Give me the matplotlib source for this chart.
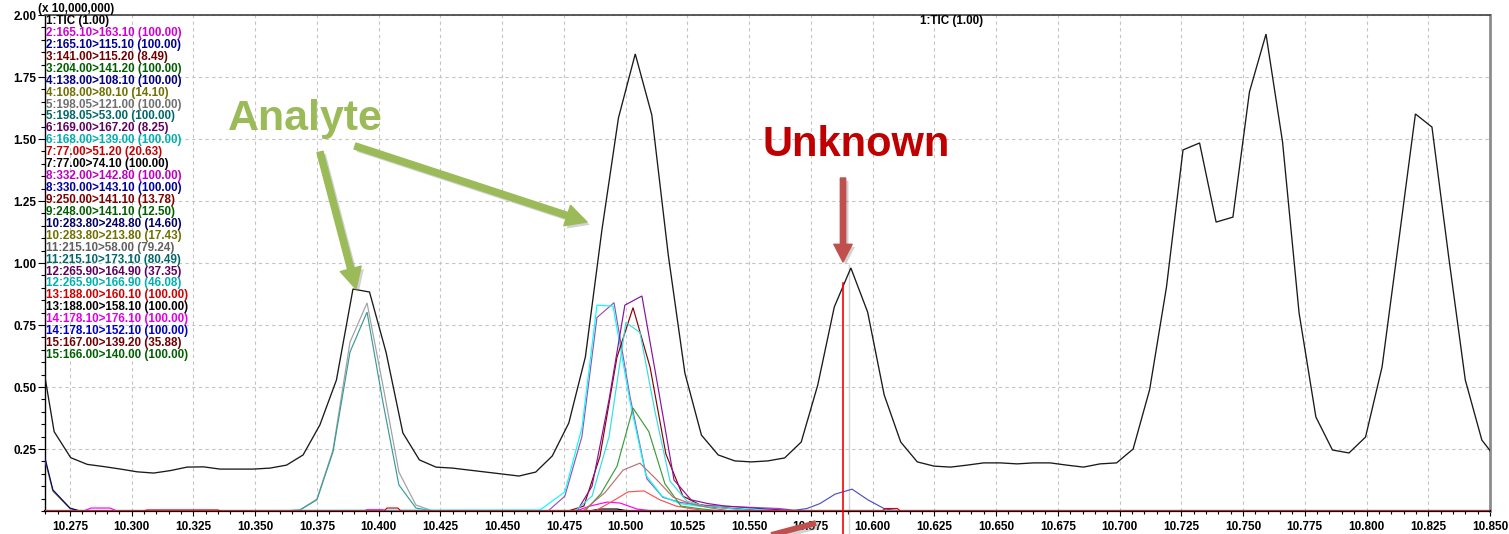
import matplotlib
matplotlib.use("Agg")
import matplotlib.pyplot as plt
from matplotlib.patches import FancyArrowPatch, ArrowStyle
from matplotlib.lines import Line2D
from matplotlib.ticker import MultipleLocator, FixedLocator
import matplotlib.patheffects as pe

plt.rcParams['font.family'] = ['Liberation Sans', 'DejaVu Sans']

W, H = 1509, 534

# ---------------- data ----------------
x_min, x_max = 10.2649, 10.850
y_min, y_max = 0.0, 2.0
x_ticks = [10.275, 10.300, 10.325, 10.350, 10.375, 10.400, 10.425, 10.450, 10.475,
           10.500, 10.525, 10.550, 10.575, 10.600, 10.625, 10.650, 10.675, 10.700,
           10.725, 10.750, 10.775, 10.800, 10.825, 10.850]
y_ticks = [0.25, 0.50, 0.75, 1.00, 1.25, 1.50, 1.75, 2.00]

# total ion chromatogram (x 10,000,000)
tic_time = [10.2649, 10.2686, 10.2753, 10.2820, 10.2888, 10.2955, 10.3022, 10.3089,
            10.3157, 10.3224, 10.3291, 10.3358, 10.3425, 10.3493, 10.3560, 10.3627,
            10.3694, 10.3762, 10.3829, 10.3896, 10.3963, 10.4030, 10.4098, 10.4165,
            10.4232, 10.4299, 10.4366, 10.4434, 10.4501, 10.4568, 10.4636, 10.4703,
            10.4770, 10.4837, 10.4904, 10.4971, 10.5039, 10.5106, 10.5173, 10.5240,
            10.5307, 10.5375, 10.5442, 10.5509, 10.5576, 10.5644, 10.5711, 10.5778,
            10.5845, 10.5912, 10.5980, 10.6047, 10.6114, 10.6181, 10.6249, 10.6316,
            10.6383, 10.6450, 10.6517, 10.6585, 10.6652, 10.6719, 10.6786, 10.6854,
            10.6921, 10.6988, 10.7055, 10.7122, 10.7190, 10.7257, 10.7324, 10.7391,
            10.7459, 10.7526, 10.7593, 10.7660, 10.7727, 10.7795, 10.7862, 10.7929,
            10.7996, 10.8063, 10.8131, 10.8198, 10.8265, 10.8332, 10.8400, 10.8467,
            10.8534]
tic_int = [0.540, 0.320, 0.215, 0.188, 0.179, 0.169, 0.158, 0.153,
           0.163, 0.177, 0.178, 0.169, 0.169, 0.169, 0.173, 0.185,
           0.226, 0.347, 0.528, 0.895, 0.883, 0.640, 0.315, 0.206,
           0.177, 0.173, 0.165, 0.157, 0.149, 0.141, 0.157, 0.222,
           0.355, 0.621, 1.133, 1.585, 1.843, 1.597, 1.030, 0.556,
           0.306, 0.226, 0.202, 0.198, 0.202, 0.214, 0.278, 0.508,
           0.823, 0.980, 0.802, 0.468, 0.278, 0.198, 0.181, 0.177,
           0.185, 0.194, 0.194, 0.190, 0.194, 0.194, 0.185, 0.177,
           0.190, 0.194, 0.250, 0.490, 0.903, 1.456, 1.484, 1.165,
           1.185, 1.690, 1.923, 1.488, 0.798, 0.379, 0.246, 0.234,
           0.298, 0.581, 1.093, 1.601, 1.548, 1.030, 0.528, 0.286,
           0.200]

# MRM channels: (time, intensity) pairs, baseline elsewhere
base_t = [10.26, 10.86]
base_y = [0.0, 0.0]

ch2a_t = [10.26, 10.2806, 10.2835, 10.2912, 10.2940, 10.4799, 10.4856, 10.4925, 10.4978, 10.5046, 10.5110, 10.86]
ch2a_y = [0.0, 0.0, 0.012, 0.012, 0.0, 0.0, 0.020, 0.036, 0.032, 0.008, 0.0, 0.0]

ch2b_t = [10.2600, 10.2649, 10.2681, 10.2750, 10.2790, 10.86]
ch2b_y = [0.300, 0.214, 0.085, 0.012, 0.0, 0.0]

ch4b_t = [10.2600, 10.2649, 10.2681, 10.2750, 10.2790, 10.86]
ch4b_y = [0.290, 0.205, 0.080, 0.010, 0.0, 0.0]

ch5a_t = [10.26, 10.3617, 10.3681, 10.3750, 10.3815, 10.3884, 10.3953, 10.4017, 10.4082, 10.4151, 10.4220, 10.86]
ch5a_y = [0.0, 0.0, 0.004, 0.048, 0.246, 0.681, 0.839, 0.508, 0.157, 0.024, 0.0, 0.0]
ch5b_t = [10.26, 10.3617, 10.3681, 10.3750, 10.3815, 10.3884, 10.3953, 10.4017, 10.4082, 10.4151, 10.4220, 10.86]
ch5b_y = [0.0, 0.0, 0.004, 0.045, 0.238, 0.641, 0.802, 0.440, 0.105, 0.012, 0.0, 0.0]

ch6a_t = [10.26, 10.4686, 10.4754, 10.4823, 10.4884, 10.4953, 10.5018, 10.5086, 10.5151, 10.5220,
          10.5289, 10.5382, 10.5503, 10.5625, 10.5706, 10.86]
ch6a_y = [0.0, 0.0, 0.060, 0.300, 0.780, 0.840, 0.460, 0.130, 0.055, 0.035,
          0.025, 0.020, 0.015, 0.010, 0.0, 0.0]
ch6b_t = [10.26, 10.4653, 10.4754, 10.4823, 10.4884, 10.4949, 10.5018, 10.5082, 10.5147, 10.5220,
          10.5289, 10.5362, 10.5443, 10.5544, 10.5665, 10.86]
ch6b_y = [0.0, 0.004, 0.077, 0.335, 0.830, 0.826, 0.440, 0.145, 0.060, 0.030,
          0.020, 0.015, 0.010, 0.005, 0.0, 0.0]

ch7a_t = [10.26, 10.4876, 10.4941, 10.5010, 10.5074, 10.5139, 10.5204, 10.5273, 10.5342, 10.86]
ch7a_y = [0.0, 0.0, 0.036, 0.077, 0.081, 0.045, 0.020, 0.008, 0.0, 0.0]
ch7b_t = [10.26, 10.4855, 10.4896, 10.4965, 10.5010, 10.86]
ch7b_y = [0.0, 0.0, 0.008, 0.008, 0.0, 0.0]

ch9a_t = [10.26, 10.4768, 10.4831, 10.4896, 10.4965, 10.5030, 10.5099, 10.5163, 10.5232, 10.5301,
          10.5366, 10.5435, 10.5544, 10.86]
ch9a_y = [0.0, 0.0, 0.020, 0.220, 0.620, 0.820, 0.580, 0.230, 0.060, 0.025,
          0.015, 0.010, 0.0, 0.0]
ch9b_t = [10.26, 10.4835, 10.4900, 10.4965, 10.5030, 10.5094, 10.5159, 10.5224, 10.5293, 10.5382, 10.86]
ch9b_y = [0.0, 0.0, 0.070, 0.180, 0.415, 0.320, 0.110, 0.020, 0.010, 0.0, 0.0]

ch12a_t = [10.26, 10.4803, 10.4864, 10.4933, 10.4997, 10.5066, 10.5131, 10.5196, 10.5265, 10.5333,
           10.5402, 10.5544, 10.5706, 10.86]
ch12a_y = [0.0, 0.0, 0.100, 0.450, 0.830, 0.867, 0.500, 0.125, 0.045, 0.030,
           0.020, 0.010, 0.0, 0.0]
ch12b_t = [10.26, 10.4795, 10.4864, 10.4933, 10.5001, 10.5058, 10.5119, 10.5180, 10.5248, 10.5321,
           10.5422, 10.5544, 10.86]
ch12b_y = [0.0, 0.0, 0.060, 0.300, 0.760, 0.720, 0.400, 0.120, 0.040, 0.020,
           0.010, 0.0, 0.0]

ch13a_t = [10.26, 10.3050, 10.3062, 10.3349, 10.3360, 10.4022, 10.4034, 10.4078, 10.4090,
           10.6040, 10.6050, 10.6100, 10.6112, 10.86]
ch13a_y = [0.0, 0.0, 0.004, 0.004, 0.0, 0.0, 0.012, 0.012, 0.0,
           0.0, 0.010, 0.010, 0.0, 0.0]

ch14a_t = [10.26, 10.3940, 10.3953, 10.4017, 10.4030, 10.86]
ch14a_y = [0.0, 0.0, 0.006, 0.006, 0.0, 0.0]
ch14b_t = [10.26, 10.5665, 10.5734, 10.5787, 10.5848, 10.5917, 10.5981, 10.6050, 10.6111, 10.86]
ch14b_y = [0.0, 0.0, 0.010, 0.030, 0.068, 0.088, 0.045, 0.008, 0.0, 0.0]

ch15a_t = [10.26, 10.4827, 10.4917, 10.4990, 10.5058, 10.5127, 10.5192, 10.5261, 10.5329, 10.5422, 10.86]
ch15a_y = [0.0, 0.0, 0.075, 0.165, 0.193, 0.125, 0.056, 0.030, 0.015, 0.0, 0.0]

channel_labels = [
    "1:TIC (1.00)",
    "2:165.10>163.10 (100.00)", "2:165.10>115.10 (100.00)",
    "3:141.00>115.20 (8.49)", "3:204.00>141.20 (100.00)",
    "4:138.00>108.10 (100.00)", "4:108.00>80.10 (14.10)",
    "5:198.05>121.00 (100.00)", "5:198.05>53.00 (100.00)",
    "6:169.00>167.20 (8.25)", "6:168.00>139.00 (100.00)",
    "7:77.00>51.20 (20.63)", "7:77.00>74.10 (100.00)",
    "8:332.00>142.80 (100.00)", "8:330.00>143.10 (100.00)",
    "9:250.00>141.10 (13.78)", "9:248.00>141.10 (12.50)",
    "10:283.80>248.80 (14.60)", "10:283.80>213.80 (17.43)",
    "11:215.10>58.00 (79.24)", "11:215.10>173.10 (80.49)",
    "12:265.90>164.90 (37.35)", "12:265.90>166.90 (46.08)",
    "13:188.00>160.10 (100.00)", "13:188.00>158.10 (100.00)",
    "14:178.10>176.10 (100.00)", "14:178.10>152.10 (100.00)",
    "15:167.00>139.20 (35.88)", "15:166.00>140.00 (100.00)",
]
channel_data = [
    (tic_time, tic_int),
    (ch2a_t, ch2a_y), (ch2b_t, ch2b_y),
    (base_t, base_y), (base_t, base_y),
    (base_t, base_y), (ch4b_t, ch4b_y),
    (ch5a_t, ch5a_y), (ch5b_t, ch5b_y),
    (ch6a_t, ch6a_y), (ch6b_t, ch6b_y),
    (ch7a_t, ch7a_y), (ch7b_t, ch7b_y),
    (base_t, base_y), (base_t, base_y),
    (ch9a_t, ch9a_y), (ch9b_t, ch9b_y),
    (base_t, base_y), (base_t, base_y),
    (base_t, base_y), (base_t, base_y),
    (ch12a_t, ch12a_y), (ch12b_t, ch12b_y),
    (ch13a_t, ch13a_y), (base_t, base_y),
    (ch14a_t, ch14a_y), (ch14b_t, ch14b_y),
    (ch15a_t, ch15a_y), (base_t, base_y),
]
label_colors = [
    "#000000",
    "#d000d0", "#000090",
    "#700000", "#006000",
    "#000080", "#707000",
    "#707070", "#006868",
    "#600060", "#00b0b0",
    "#c80000", "#000000",
    "#c000c0", "#0000a0",
    "#800000", "#006000",
    "#000068", "#707000",
    "#606060", "#006868",
    "#600060", "#00b0b0",
    "#d00000", "#000000",
    "#e000e0", "#0000c0",
    "#700000", "#006000",
]
line_colors = [
    "#1a1a1a",
    "#ff00ff", "#000080",
    "#800000", "#006400",
    "#000080", "#808000",
    "#a0a0a0", "#3a9a9a",
    "#a050b0", "#00ffff",
    "#ff5050", "#000000",
    "#c000c0", "#0000a0",
    "#8b0000", "#3c9c3c",
    "#000080", "#808000",
    "#808080", "#008080",
    "#8a10a0", "#30e0e0",
    "#e00000", "#000000",
    "#ff00ff", "#5050c0",
    "#b87070", "#006400",
]
# drawing order of the channels (index into the lists above); TIC on top
draw_order = [3, 4, 5, 13, 14, 17, 18, 19, 20, 24, 28, 6, 2, 1, 25, 12, 7, 8,
              9, 10, 11, 15, 16, 21, 22, 26, 27, 23, 0]

cursor_time = 10.5880
cursor_top = 0.92
apex_time = 10.5905
apex_top = 0.99

# ---------------- figure ----------------
fig = plt.figure(figsize=(W / 100, H / 100), dpi=100)
ax = fig.add_axes([45 / W, (H - 511) / H, (1490 - 45) / W, 496 / H])

ax.set_xlim(x_min, x_max)
ax.set_ylim(y_min, y_max)

ax.grid(True, which='major', color='#c4c4c4', linestyle=(0, (3, 3)), linewidth=0.8)
ax.set_axisbelow(True)

# faint apex marker and the red cursor line
ax.add_line(Line2D([apex_time, apex_time], [-0.1, apex_top], color='#d6d6d6', lw=1.0,
                   clip_on=False, zorder=1))

for z, i in enumerate(draw_order):
    t, v = channel_data[i]
    ax.plot(t, v, color=line_colors[i], lw=0.95 if i == 0 else 0.85, zorder=3 + z * 0.01,
            solid_joinstyle='miter')

ax.add_line(Line2D([cursor_time, cursor_time], [-0.1, cursor_top], color='#ff0000', lw=1.2,
                   clip_on=False, zorder=6))

ax.xaxis.set_major_locator(FixedLocator(x_ticks))
ax.xaxis.set_minor_locator(MultipleLocator(0.005))
ax.yaxis.set_major_locator(FixedLocator(y_ticks))
ax.yaxis.set_minor_locator(MultipleLocator(0.05))
ax.set_xticklabels([f"{v:.3f}" for v in x_ticks], fontsize=8.5, fontweight='bold')
ax.set_yticklabels([f"{v:.2f}" for v in y_ticks], fontsize=8.5, fontweight='bold')
ax.tick_params(axis='x', which='major', direction='out', length=3.8, width=0.8, pad=3.2)
ax.tick_params(axis='x', which='minor', direction='out', length=2.2, width=0.8)
ax.tick_params(axis='y', which='major', direction='out', length=5.0, width=0.8, pad=1.2)
ax.tick_params(axis='y', which='minor', direction='out', length=2.8, width=0.8)

for side, col, lw in [('left', '#000000', 1.0), ('bottom', '#000000', 1.6),
                      ('top', '#404040', 1.2), ('right', '#8c8c8c', 2.0)]:
    ax.spines[side].set_color(col)
    ax.spines[side].set_linewidth(lw)


def fxy(px, py):
    return (px / W, 1 - py / H)


# channel list
for i, lab in enumerate(channel_labels):
    fig.text(*fxy(46, 21 + 11.93 * i), lab, color=label_colors[i], fontsize=8.4,
             fontweight='bold', ha='left', va='center', zorder=10)

fig.text(*fxy(38, 9), "(x 10,000,000)", fontsize=8.4, fontweight='bold', ha='left', va='center')
fig.text(*fxy(920, 21), "1:TIC (1.00)", fontsize=8.4, fontweight='bold', ha='left', va='center')

# annotations
green = '#9bbb59'
red_arrow = '#c0504d'
shadow = [pe.SimplePatchShadow(offset=(2, -2), shadow_rgbFace='#7f7f7f', alpha=0.35), pe.Normal()]

fig.text(*fxy(305, 119), "Analyte", color=green, fontsize=31, fontweight='bold',
         ha='center', va='center')
fig.text(*fxy(856, 145), "Unknown", color='#c00000', fontsize=30, fontweight='bold',
         ha='center', va='center')

arrow_style = ArrowStyle.Simple(head_length=1.5, head_width=1.55, tail_width=0.45)
for (x0, y0, x1, y1, col, ms) in [(320, 152, 356, 289, green, 10),
                                  (355, 146, 587, 222, green, 10),
                                  (843, 178, 843, 262, red_arrow, 8.5)]:
    arr = FancyArrowPatch(fxy(x0, y0), fxy(x1, y1), transform=fig.transFigure,
                          arrowstyle=arrow_style, mutation_scale=ms, color=col,
                          shrinkA=0, shrinkB=0, zorder=12)
    arr.set_path_effects(shadow)
    fig.add_artist(arr)

tail = Line2D([760 / W, 816 / W], [1 - 538 / H, 1 - 523 / H], transform=fig.transFigure,
              color=red_arrow, lw=4.2, solid_capstyle='butt', zorder=12)
tail.set_path_effects([pe.SimpleLineShadow(offset=(2, -2), shadow_color='#7f7f7f', alpha=0.35), pe.Normal()])
fig.add_artist(tail)

fig.savefig("out.png", dpi=100)
